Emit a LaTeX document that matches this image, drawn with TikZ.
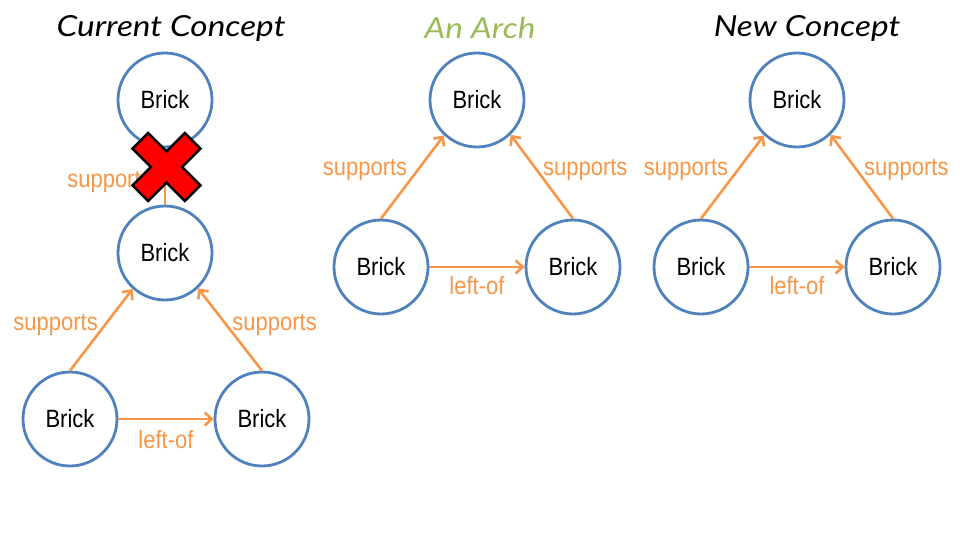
\documentclass[tikz,border=0pt]{standalone}
\usepackage{fontspec}
\usetikzlibrary{arrows.meta}
\newfontfamily\labelfont{Liberation Sans}[FakeStretch=0.88]
\newfontfamily\titlefont{Lato}[FakeStretch=1.15]
\definecolor{brickblue}{RGB}{79,129,189}
\definecolor{relorange}{RGB}{247,150,70}
\definecolor{archgreen}{RGB}{155,187,89}
\definecolor{crossred}{RGB}{255,0,0}
\tikzset{
  brick/.style={circle, draw=brickblue, line width=2.8pt, fill=white,
    minimum size=94pt, inner sep=0pt, font=\labelfont\fontsize{25}{27}\selectfont},
  rel/.style={draw=relorange, line width=2.6pt,
    -{Straight Barb[length=7pt,width=13pt,line width=2.6pt]}},
  rellabel/.style={text=relorange, inner sep=0pt, font=\labelfont\fontsize{25}{27}\selectfont},
  heading/.style={font=\titlefont\itshape\fontsize{29}{32}\selectfont, inner sep=0pt},
  crossmark/.style={fill=crossred, draw=black, line width=2.5pt, line join=miter}
}
\begin{document}
\begin{tikzpicture}[x=1pt, y=-1pt]
\useasboundingbox (0,0) rectangle (960,540);

% headings
\node[heading] (t1) at (171,28) {Current Concept};
\node[heading, text=archgreen] (t2) at (480,28) {An Arch};
\node[heading] (t3) at (807,28) {New Concept};

% current concept
\node[brick] (ctop) at (165,100) {Brick};
\node[brick] (cmid) at (165,253) {Brick};
\node[brick] (cbl) at (70,419) {Brick};
\node[brick] (cbr) at (262,419) {Brick};
\draw[rel] (cmid.north) -- node[rellabel, pos=0.40, anchor=east, xshift=-12pt] {supports} (ctop.south);
\draw[rel] (cbl.north) -- node[rellabel, pos=0.56, anchor=east, xshift=-6pt] {supports} (cmid.228);
\draw[rel] (cbr.north) -- node[rellabel, pos=0.56, anchor=west, xshift=5pt] {supports} (cmid.313);
\draw[rel] (cbl.east) -- node[rellabel, below=10pt] {left-of} (cbr.west);

% the rejected link is struck out
\begin{scope}[shift={(166.5,167)}, rotate=45]
  \path[crossmark] (37,11) -- (11,11) -- (11,37) -- (-11,37) -- (-11,11) -- (-37,11)
    -- (-37,-11) -- (-11,-11) -- (-11,-37) -- (11,-37) -- (11,-11) -- (37,-11) -- cycle;
\end{scope}

% an arch
\node[brick] (atop) at (477,100) {Brick};
\node[brick] (abl) at (381,267) {Brick};
\node[brick] (abr) at (573,267) {Brick};
\draw[rel] (abl.north) -- node[rellabel, pos=0.58, anchor=east, xshift=-9pt] {supports} (atop.227);
\draw[rel] (abr.north) -- node[rellabel, pos=0.58, anchor=west, xshift=5pt] {supports} (atop.314);
\draw[rel] (abl.east) -- node[rellabel, below=8pt] {left-of} (abr.west);

% new concept
\node[brick] (ntop) at (797,100) {Brick};
\node[brick] (nbl) at (701,267) {Brick};
\node[brick] (nbr) at (893,267) {Brick};
\draw[rel] (nbl.north) -- node[rellabel, pos=0.58, anchor=east, xshift=-8pt] {supports} (ntop.227);
\draw[rel] (nbr.north) -- node[rellabel, pos=0.58, anchor=west, xshift=6pt] {supports} (ntop.314);
\draw[rel] (nbl.east) -- node[rellabel, below=8pt] {left-of} (nbr.west);
\end{tikzpicture}
\end{document}
